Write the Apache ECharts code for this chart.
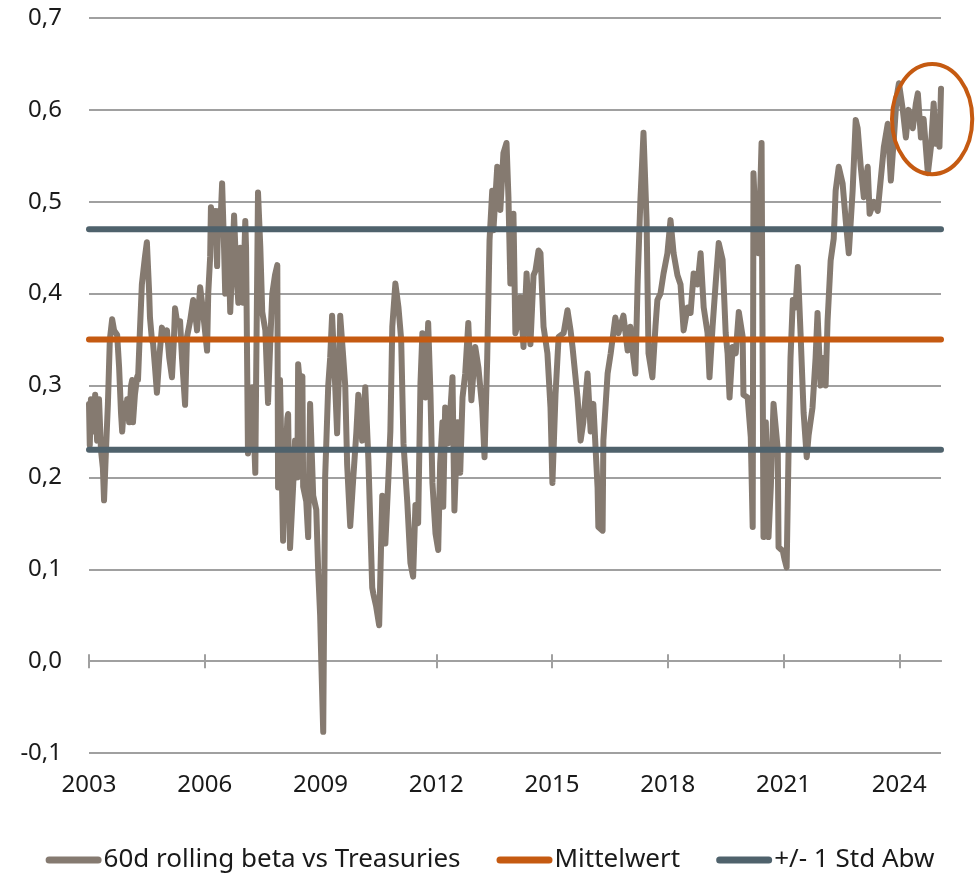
<!DOCTYPE html>
<html>
<head>
<meta charset="utf-8">
<script src="https://cdn.jsdelivr.net/npm/echarts@6/dist/echarts.min.js"></script>
<style>
  html, body { margin: 0; padding: 0; background: #fff; }
  #chart { width: 980px; height: 873px; }
</style>
</head>
<body>
<div id="chart"></div>
<script>
// beta series (decimal year / value)
const betaYears = [
  2003.00, 2003.02, 2003.05, 2003.10, 2003.16, 2003.21, 2003.26, 2003.31, 2003.36, 2003.39,
  2003.44, 2003.49, 2003.54, 2003.60, 2003.65, 2003.73, 2003.78, 2003.83, 2003.86, 2003.91,
  2003.96, 2003.99, 2004.04, 2004.09, 2004.12, 2004.14, 2004.19, 2004.25, 2004.27, 2004.32,
  2004.37, 2004.45, 2004.50, 2004.56, 2004.58, 2004.63, 2004.66, 2004.71, 2004.76, 2004.82,
  2004.89, 2004.95, 2005.02, 2005.08, 2005.15, 2005.20, 2005.23, 2005.28, 2005.36, 2005.41,
  2005.49, 2005.54, 2005.62, 2005.70, 2005.75, 2005.80, 2005.88, 2005.93, 2005.98, 2006.06,
  2006.09, 2006.14, 2006.16, 2006.22, 2006.27, 2006.32, 2006.35, 2006.40, 2006.45, 2006.50,
  2006.53, 2006.58, 2006.61, 2006.66, 2006.71, 2006.76, 2006.81, 2006.87, 2006.92,
  2006.97, 2006.99, 2007.05, 2007.07, 2007.12, 2007.18, 2007.23, 2007.31, 2007.33, 2007.38,
  2007.44, 2007.49, 2007.57, 2007.64, 2007.70, 2007.75, 2007.82, 2007.88, 2007.90, 2007.95,
  2008.03, 2008.08, 2008.14, 2008.16, 2008.21, 2008.29, 2008.34, 2008.40, 2008.42, 2008.47,
  2008.53, 2008.55, 2008.63, 2008.68, 2008.73, 2008.81, 2008.89, 2008.94, 2008.99, 2009.02,
  2009.07, 2009.12, 2009.20, 2009.25, 2009.30, 2009.38, 2009.43, 2009.49, 2009.51, 2009.59,
  2009.64, 2009.69, 2009.77, 2009.85, 2009.93, 2009.98, 2010.08, 2010.16, 2010.24, 2010.29,
  2010.34, 2010.37, 2010.44, 2010.52, 2010.60, 2010.68, 2010.76,
  2010.81, 2010.86, 2010.94, 2011.02, 2011.09, 2011.15, 2011.25, 2011.33, 2011.40, 2011.46,
  2011.53, 2011.59, 2011.64, 2011.72, 2011.79, 2011.85, 2011.90, 2011.98, 2012.05, 2012.10,
  2012.16, 2012.18, 2012.23, 2012.31, 2012.42, 2012.47, 2012.55, 2012.62, 2012.68, 2012.75,
  2012.83, 2012.91, 2013.01, 2013.09, 2013.19, 2013.25, 2013.32, 2013.38, 2013.45, 2013.48,
  2013.58, 2013.66, 2013.74, 2013.82, 2013.87, 2013.92, 2014.00, 2014.05, 2014.13, 2014.18,
  2014.26, 2014.34, 2014.44, 2014.52, 2014.57, 2014.65,
  2014.70, 2014.78, 2014.88, 2014.96, 2015.01, 2015.09, 2015.17, 2015.30, 2015.40, 2015.48,
  2015.53, 2015.66, 2015.74, 2015.81, 2015.92, 2016.00, 2016.07, 2016.18, 2016.20, 2016.31,
  2016.33, 2016.44, 2016.52, 2016.64, 2016.72, 2016.85, 2016.96, 2017.03, 2017.11, 2017.16,
  2017.22, 2017.29, 2017.37, 2017.45, 2017.50, 2017.60, 2017.68, 2017.73, 2017.81, 2017.89,
  2017.99, 2018.07, 2018.15, 2018.25, 2018.33, 2018.41, 2018.51,
  2018.59, 2018.67, 2018.77, 2018.85, 2018.93, 2019.03, 2019.08, 2019.16, 2019.24, 2019.32,
  2019.42, 2019.50, 2019.55, 2019.60, 2019.68, 2019.76, 2019.84, 2019.94, 2019.96, 2020.07,
  2020.15, 2020.20, 2020.22, 2020.30, 2020.35, 2020.43, 2020.48, 2020.54, 2020.61, 2020.67,
  2020.74, 2020.85, 2020.87, 2020.98, 2021.03, 2021.08, 2021.13, 2021.18, 2021.24, 2021.31,
  2021.37, 2021.44, 2021.52, 2021.60, 2021.65, 2021.75, 2021.83, 2021.88, 2021.96, 2022.04,
  2022.09, 2022.14, 2022.22, 2022.30, 2022.35, 2022.43,
  2022.53, 2022.61, 2022.69, 2022.79, 2022.87, 2022.92, 2023.00, 2023.08, 2023.18, 2023.23,
  2023.34, 2023.44, 2023.49, 2023.60, 2023.70, 2023.78, 2023.86, 2023.93, 2023.99, 2024.09,
  2024.17, 2024.24, 2024.35, 2024.43, 2024.48, 2024.56, 2024.63, 2024.74, 2024.82, 2024.89,
  2024.95, 2025.00, 2025.04, 2025.08
];
const betaValues = [
  0.28, 0.235, 0.285, 0.25, 0.29, 0.24, 0.285, 0.23, 0.21, 0.175,
  0.23, 0.28, 0.35, 0.372, 0.36, 0.355, 0.32, 0.27, 0.25, 0.28,
  0.27, 0.285, 0.26, 0.30, 0.306, 0.26, 0.29, 0.31, 0.306, 0.36,
  0.41, 0.44, 0.456, 0.40, 0.374, 0.35, 0.346, 0.32, 0.292, 0.33,
  0.363, 0.35, 0.36, 0.33, 0.309, 0.35, 0.384, 0.37, 0.37, 0.33,
  0.279, 0.353, 0.37, 0.393, 0.38, 0.36, 0.407, 0.39, 0.37, 0.338,
  0.40, 0.44, 0.494, 0.47, 0.49, 0.43, 0.49, 0.47, 0.52, 0.45,
  0.40, 0.44, 0.466, 0.38, 0.43, 0.485, 0.43, 0.39, 0.45,
  0.40, 0.39, 0.479, 0.45, 0.226, 0.26, 0.298, 0.205, 0.30, 0.51,
  0.45, 0.38, 0.36, 0.281, 0.35, 0.40, 0.42, 0.431, 0.189, 0.306,
  0.131, 0.20, 0.264, 0.269, 0.123, 0.19, 0.24, 0.20, 0.323, 0.30,
  0.31, 0.19, 0.174, 0.135, 0.28, 0.18, 0.165, 0.098, 0.05, 0.0,
  -0.077, 0.2, 0.30, 0.33, 0.376, 0.30, 0.248, 0.33, 0.376, 0.33,
  0.30, 0.214, 0.147, 0.20, 0.25, 0.29, 0.24, 0.298, 0.22, 0.15,
  0.08, 0.073, 0.06, 0.039, 0.18, 0.128, 0.20,
  0.25, 0.364, 0.411, 0.385, 0.35, 0.237, 0.172, 0.107, 0.092, 0.17,
  0.150, 0.302, 0.357, 0.287, 0.368, 0.29, 0.194, 0.139, 0.121, 0.215,
  0.26, 0.168, 0.276, 0.237, 0.309, 0.164, 0.26, 0.205, 0.287, 0.313,
  0.368, 0.284, 0.342, 0.320, 0.276, 0.222, 0.33, 0.458, 0.512, 0.469,
  0.538, 0.491, 0.553, 0.564, 0.505, 0.411, 0.487, 0.357, 0.37, 0.396,
  0.342, 0.422, 0.345, 0.42, 0.425, 0.447,
  0.444, 0.364, 0.335, 0.276, 0.194, 0.29, 0.353, 0.357, 0.382, 0.36,
  0.342, 0.287, 0.240, 0.26, 0.313, 0.25, 0.28, 0.189, 0.146, 0.142,
  0.24, 0.313, 0.335, 0.374, 0.357, 0.376, 0.338, 0.364, 0.33, 0.313,
  0.415, 0.502, 0.575, 0.48, 0.335, 0.309, 0.364, 0.393, 0.40, 0.422,
  0.444, 0.480, 0.444, 0.42, 0.41, 0.360, 0.385,
  0.379, 0.422, 0.41, 0.444, 0.385, 0.357, 0.309, 0.364, 0.411, 0.455,
  0.437, 0.357, 0.335, 0.287, 0.342, 0.335, 0.38, 0.353, 0.29, 0.287,
  0.244, 0.146, 0.531, 0.45, 0.444, 0.564, 0.135, 0.26, 0.135, 0.19,
  0.28, 0.23, 0.124, 0.12, 0.11, 0.102, 0.23, 0.33, 0.393, 0.385,
  0.429, 0.357, 0.27, 0.222, 0.246, 0.276, 0.33, 0.379, 0.30, 0.33,
  0.30, 0.37, 0.436, 0.46, 0.512, 0.538,
  0.52, 0.48, 0.444, 0.512, 0.589, 0.58, 0.538, 0.505, 0.538, 0.487,
  0.50, 0.49, 0.512, 0.560, 0.585, 0.523, 0.57, 0.614, 0.629, 0.60,
  0.57, 0.60, 0.58, 0.607, 0.618, 0.57, 0.59, 0.531, 0.56, 0.607,
  0.563, 0.577, 0.56, 0.623
];

const meanValue = 0.35;
const stdLower = 0.23;
const stdUpper = 0.47;

const xStart = 2003;
const xEnd = 2025.08;
const yearTicks = [2003, 2006, 2009, 2012, 2015, 2018, 2021, 2024];

const names = ['60d rolling beta vs Treasuries', 'Mittelwert', '+/- 1 Std Abw'];
const colors = ['#857a70', '#c55a11', '#4f626c'];

// circled area at the end of the series
const highlight = { year: 2024.85, value: 0.59, halfYears: 1.04, halfValue: 0.06 };

const font = 'Noto Sans';
const gridColor = '#a0a0a0';

function flatLine(v) {
  return [[xStart, v], [xEnd, v]];
}

function zeroAxis(position) {
  return {
    type: 'value',
    min: xStart,
    max: xEnd,
    position: position,
    axisLine: { show: true, onZero: true, onZeroAxisIndex: 0, lineStyle: { color: gridColor, width: 2 } },
    axisTick: { show: true, customValues: yearTicks, length: 7, lineStyle: { color: gridColor, width: 2 } },
    axisLabel: { show: false },
    splitLine: { show: false }
  };
}

const option = {
  animation: false,
  backgroundColor: '#fff',
  textStyle: { fontFamily: font },
  grid: {
    left: 89,
    right: 39,
    top: 18,
    bottom: 120,
    containLabel: false,
    outerBoundsMode: 'none'
  },
  legend: {
    data: names,
    left: 'center',
    top: 842,
    itemWidth: 56,
    itemHeight: 7,
    itemGap: 36,
    icon: 'path://M3.5,0 L52.5,0 A3.5,3.5 0 0 1 52.5,7 L3.5,7 A3.5,3.5 0 0 1 3.5,0 Z',
    itemStyle: { borderWidth: 0 },
    textStyle: { fontFamily: font, fontSize: 26, color: '#1a1a1a', padding: [0, 0, 0, -3] }
  },
  xAxis: [
    {
      type: 'value',
      min: xStart,
      max: xEnd,
      position: 'bottom',
      axisLine: { show: false, onZero: false },
      axisTick: { show: false },
      splitLine: { show: false },
      axisLabel: {
        customValues: yearTicks,
        fontFamily: font,
        fontSize: 24,
        color: '#1a1a1a',
        margin: 20,
        formatter: v => String(Math.round(v))
      }
    },
    zeroAxis('bottom'),
    zeroAxis('top')
  ],
  yAxis: {
    type: 'value',
    min: -0.1,
    max: 0.7,
    interval: 0.1,
    axisLine: { show: false },
    axisTick: { show: false },
    splitLine: { lineStyle: { color: gridColor, width: 2 } },
    axisLabel: {
      fontFamily: font,
      fontSize: 24,
      color: '#1a1a1a',
      margin: 27,
      formatter: v => (Math.abs(v) < 1e-9 ? 0 : v).toFixed(1).replace('.', ',')
    }
  },
  series: [
    {
      name: names[0],
      type: 'line',
      data: betaYears.map((y, i) => [y, betaValues[i]]),
      symbol: 'none',
      itemStyle: { color: colors[0] },
      lineStyle: { color: colors[0], width: 6, join: 'round', cap: 'round' }
    },
    {
      name: names[1],
      type: 'line',
      data: flatLine(meanValue),
      symbol: 'none',
      itemStyle: { color: colors[1] },
      lineStyle: { color: colors[1], width: 6, cap: 'round' }
    },
    {
      name: names[2],
      type: 'line',
      data: flatLine(stdUpper),
      symbol: 'none',
      itemStyle: { color: colors[2] },
      lineStyle: { color: colors[2], width: 6, cap: 'round' }
    },
    {
      name: names[2],
      type: 'line',
      data: flatLine(stdLower),
      symbol: 'none',
      itemStyle: { color: colors[2] },
      lineStyle: { color: colors[2], width: 6, cap: 'round' }
    }
  ]
};

const chart = echarts.init(document.getElementById('chart'), null, { renderer: 'canvas' });
chart.setOption(option);

// ellipse placed through the axes
const finder = { xAxisIndex: 0, yAxisIndex: 0 };
const c = chart.convertToPixel(finder, [highlight.year, highlight.value]);
const e = chart.convertToPixel(finder, [highlight.year + highlight.halfYears, highlight.value + highlight.halfValue]);
chart.setOption({
  graphic: [{
    type: 'ellipse',
    z: 100,
    shape: { cx: c[0], cy: c[1], rx: Math.abs(e[0] - c[0]), ry: Math.abs(c[1] - e[1]) },
    style: { fill: 'none', stroke: colors[1], lineWidth: 4 }
  }]
});
</script>
</body>
</html>
